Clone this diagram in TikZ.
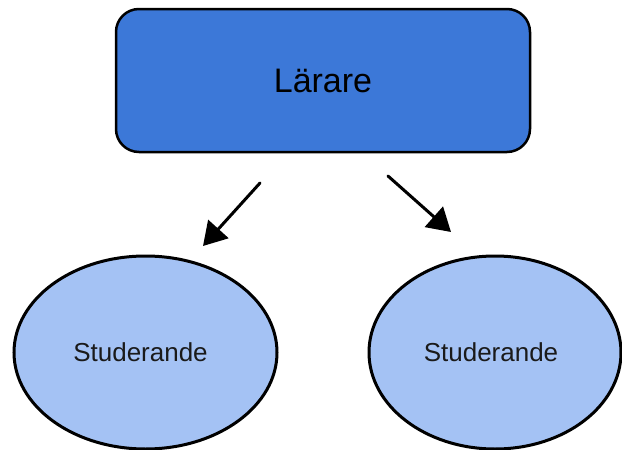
\documentclass[tikz,border=0pt]{standalone}
\usepackage{fontspec}
\setmainfont{Liberation Sans}
\usetikzlibrary{shapes.geometric,arrows.meta}

\definecolor{boxblue}{HTML}{3C78D8}
\definecolor{ovalblue}{HTML}{A4C2F4}
\definecolor{textdark}{HTML}{1A1A1A}

\tikzset{
  teacherbox/.style={draw=black, line width=2.5pt, fill=boxblue,
    rounded corners=23pt, minimum width=414pt, minimum height=143pt,
    inner sep=0pt, font=\fontsize{34}{40}\selectfont, text=black},
  studentoval/.style={draw=black, line width=3pt, fill=ovalblue,
    ellipse, minimum width=263pt, minimum height=193pt, inner sep=0pt},
  studentlabel/.style={font=\fontsize{26}{30}\selectfont, text=textdark},
  pointer/.style={line width=3pt, line cap=round,
    -{Triangle[length=23pt,width=27pt]}}
}

\begin{document}
\begin{tikzpicture}[x=1pt, y=-1pt]
  \useasboundingbox (0,0) rectangle (622,450);

  % teacher box
  \node[teacherbox] (teacher) at (323,80.5) {Lärare};

  % the two students
  \node[studentoval, label={[studentlabel, xshift=-5pt]center:Studerande}]
    (studentA) at (145.5,352.5) {};
  \node[studentoval, minimum width=252pt,
    label={[studentlabel, xshift=-4pt]center:Studerande}]
    (studentB) at (495,352.5) {};

  % free-standing arrows between box and ovals
  \coordinate (leftFrom) at (260,183);
  \coordinate (leftTo)   at (203,246);
  \coordinate (rightFrom) at (388,176);
  \coordinate (rightTo)   at (451,232);

  \draw[pointer] (leftFrom) -- (leftTo);
  \draw[pointer] (rightFrom) -- (rightTo);
\end{tikzpicture}
\end{document}
